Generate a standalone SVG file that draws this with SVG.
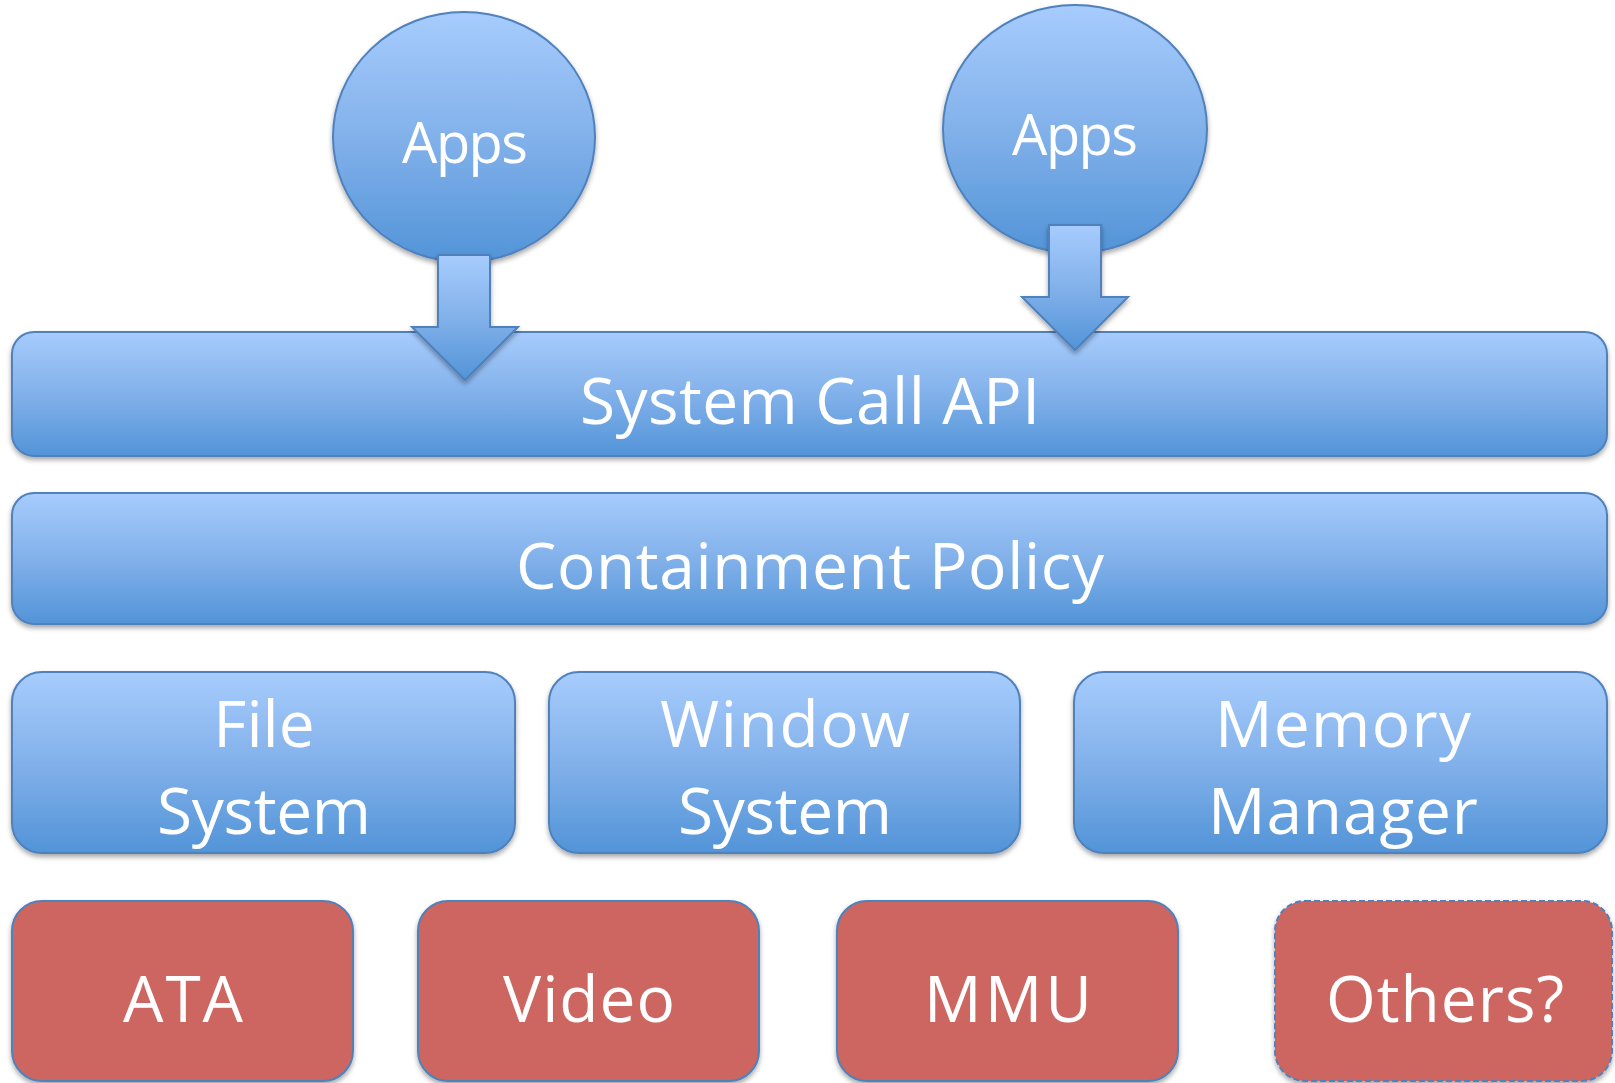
<svg xmlns="http://www.w3.org/2000/svg" width="1615" height="1083" viewBox="0 0 1615 1083">
<defs>
<linearGradient id="blue" x1="0" y1="0" x2="0" y2="1">
<stop offset="0" stop-color="#A7CCFD"/>
<stop offset="0.5" stop-color="#82B1EA"/>
<stop offset="1" stop-color="#5294D8"/>
</linearGradient>
<filter id="sh" x="-5%" y="-10%" width="110%" height="125%">
<feDropShadow dx="0" dy="3" stdDeviation="2.5" flood-color="#000" flood-opacity="0.35"/>
</filter>
</defs>
<style>
.b{fill:url(#blue);stroke:#4F81BD;stroke-width:2;filter:url(#sh)}
.r{fill:#CD6660;stroke:#4F81BD;stroke-width:2;filter:url(#sh)}
.d{stroke-dasharray:6 3}
text{font-family:"Open Sans","Noto Sans","DejaVu Sans",sans-serif;fill:#fff;text-anchor:middle}
.big{font-size:64px}
.sm{font-size:56px}
</style>
<g id="syscall"><rect class="b" x="12" y="332" width="1595" height="124" rx="22"/><text class="big" x="810" y="424" textLength="460">System Call API</text></g>
<g id="containment"><rect class="b" x="12" y="493" width="1595" height="131" rx="22"/><text class="big" x="810" y="589" textLength="588">Containment Policy</text></g>
<g id="apps1"><ellipse class="b" cx="464" cy="137" rx="131" ry="125"/><text class="sm" x="465" y="163" textLength="126">Apps</text></g>
<g id="apps2"><ellipse class="b" cx="1075" cy="129" rx="132" ry="124"/><text class="sm" x="1075" y="155" textLength="126">Apps</text></g>
<g id="connectors">
<path class="b" d="M438,255 H490 V327 H518 L465,380 L412,327 H438 Z"/>
<path class="b" d="M1049,225 H1101 V297 H1128 L1075,350 L1022,297 H1049 Z"/>
</g>
<g id="filesystem"><rect class="b" x="12" y="672" width="503" height="181" rx="30"/><text class="big" x="264" y="747">File</text><text class="big" x="264" y="834" textLength="214">System</text></g>
<g id="windowsystem"><rect class="b" x="549" y="672" width="471" height="181" rx="30"/><text class="big" x="785" y="747" textLength="250">Window</text><text class="big" x="785" y="834" textLength="214">System</text></g>
<g id="memorymanager"><rect class="b" x="1074" y="672" width="533" height="181" rx="30"/><text class="big" x="1343" y="747" textLength="256">Memory</text><text class="big" x="1343" y="834" textLength="270">Manager</text></g>
<g id="ata"><rect class="r" x="12" y="901" width="341" height="180" rx="30"/><text class="big" x="183" y="1022" textLength="120">ATA</text></g>
<g id="video"><rect class="r" x="418" y="901" width="341" height="180" rx="30"/><text class="big" x="589" y="1022" textLength="172">Video</text></g>
<g id="mmu"><rect class="r" x="837" y="901" width="341" height="180" rx="30"/><text class="big" x="1008" y="1022" textLength="168">MMU</text></g>
<g id="others"><rect class="r d" x="1275" y="901" width="337" height="180" rx="30"/><text class="big" x="1445" y="1022" textLength="238">Others?</text></g>
</svg>
